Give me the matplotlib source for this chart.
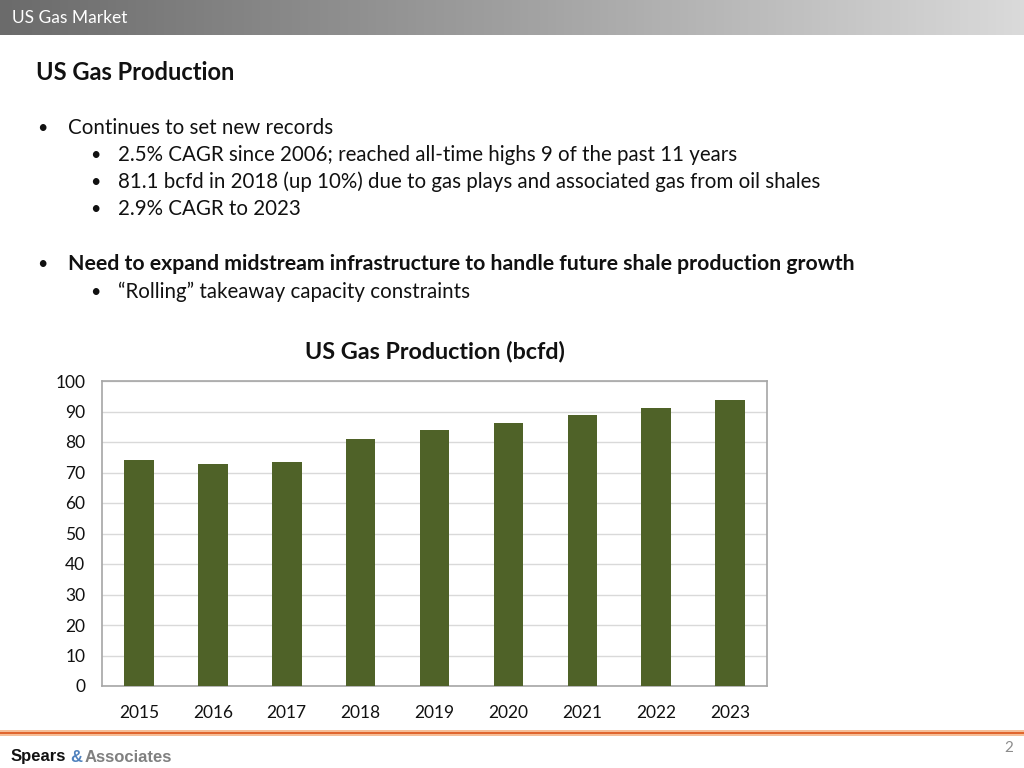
import matplotlib
matplotlib.use("Agg")
import matplotlib.pyplot as plt
import numpy as np
from matplotlib.colors import LinearSegmentedColormap

years = ["2015", "2016", "2017", "2018", "2019", "2020", "2021", "2022", "2023"]
production = [74.0, 72.9, 73.4, 81.0, 84.0, 86.3, 88.7, 91.2, 93.7]
y_ticks = [0, 10, 20, 30, 40, 50, 60, 70, 80, 90, 100]

W, H = 1024, 768
FONT = ["Lato", "Open Sans", "DejaVu Sans"]
plt.rcParams['font.family'] = FONT

fig = plt.figure(figsize=(W / 100, H / 100), dpi=100)
fig.patch.set_facecolor("white")


def fx(x):
    return x / W


def fy(y):
    return 1 - y / H


# Header gradient bar
hax = fig.add_axes([0, fy(35), 1, 35 / H])
grad = np.linspace(0, 1, 512).reshape(1, -1)
cmap = LinearSegmentedColormap.from_list("hdr", ["#6b6b6b", "#a0a0a0", "#dadada"])
hax.imshow(grad, aspect="auto", cmap=cmap, extent=[0, 1, 0, 1])
hax.set_axis_off()
fig.text(fx(12), fy(18), "US Gas Market", color="white", fontsize=12.5,
         va="center", ha="left")

# Title
fig.text(fx(36), fy(73), "US Gas Production", fontsize=17, fontweight="bold",
         va="center", ha="left", color="#111111")

lines = [
    (0, 128, "Continues to set new records", "normal", 14.8),
    (1, 155, "2.5% CAGR since 2006; reached all-time highs 9 of the past 11 years", "normal", 14.8),
    (1, 182, "81.1 bcfd in 2018 (up 10%) due to gas plays and associated gas from oil shales", "normal", 14.8),
    (1, 209, "2.9% CAGR to 2023", "normal", 14.8),
    (0, 264, "Need to expand midstream infrastructure to handle future shale production growth", "bold", 15.3),
    (1, 292, "\u201cRolling\u201d takeaway capacity constraints", "normal", 14.8),
]
for lvl, y, s, w, sz in lines:
    bx, tx = (37, 68) if lvl == 0 else (90, 118)
    fig.text(fx(bx), fy(y), "\u2022", fontsize=13, va="center", ha="left", color="#111111")
    fig.text(fx(tx), fy(y), s, fontsize=sz, fontweight=w, va="center", ha="left",
             color="#111111")

# Chart title
fig.text(fx(435), fy(352), "US Gas Production (bcfd)", fontsize=16.8, fontweight="bold",
         va="center", ha="center", color="#111111")

# Chart
ax = fig.add_axes([fx(102), fy(686), 665 / W, 305 / H])
x = np.arange(len(years))
ax.bar(x, production, width=0.4, color="#4f6228", zorder=3)
ax.set_xlim(-0.5, len(years) - 0.5)
ax.set_ylim(0, 100)
ax.set_yticks(y_ticks)
ax.set_yticklabels([str(v) for v in y_ticks])
ax.set_xticks(x)
ax.set_xticklabels(years)
ax.grid(axis="y", color="#d9d9d9", linewidth=1, zorder=0)
for sp in ax.spines.values():
    sp.set_color("#a6a6a6")
    sp.set_linewidth(1.2)
ax.tick_params(axis="both", length=0, labelsize=12.5, colors="#111111")
ax.tick_params(axis="x", pad=14)
ax.tick_params(axis="y", pad=12)

# Footer lines
for y, c, lw in [(730.5, "#f4b183", 1.2), (732.5, "#e0622a", 1.4), (735, "#f4b183", 1.2)]:
    fig.add_artist(plt.Line2D([0, 1], [fy(y), fy(y)], color=c, linewidth=lw,
                              transform=fig.transFigure))

narrow = ["Liberation Sans", "DejaVu Sans"]
fsz = 12
t1 = fig.text(fx(11), fy(757), "Spears", fontsize=fsz, fontweight="bold", color="#111111",
              va="center", ha="left", family=narrow)
fig.canvas.draw()
r = fig.canvas.get_renderer()
bb = t1.get_window_extent(r)
t2 = fig.text(bb.x1 / W + 4 / W, fy(757), "&", fontsize=fsz, fontweight="bold", color="#4f81bd",
              va="center", ha="left", family=narrow)
bb2 = t2.get_window_extent(r)
fig.text(bb2.x1 / W + 2 / W, fy(757), "Associates", fontsize=fsz, fontweight="bold",
         color="#808080", va="center", ha="left", family=narrow)

fig.text(fx(1013), fy(748), "2", fontsize=11, color="#8c8c8c", va="center", ha="right")

fig.savefig("out.png", dpi=100)
